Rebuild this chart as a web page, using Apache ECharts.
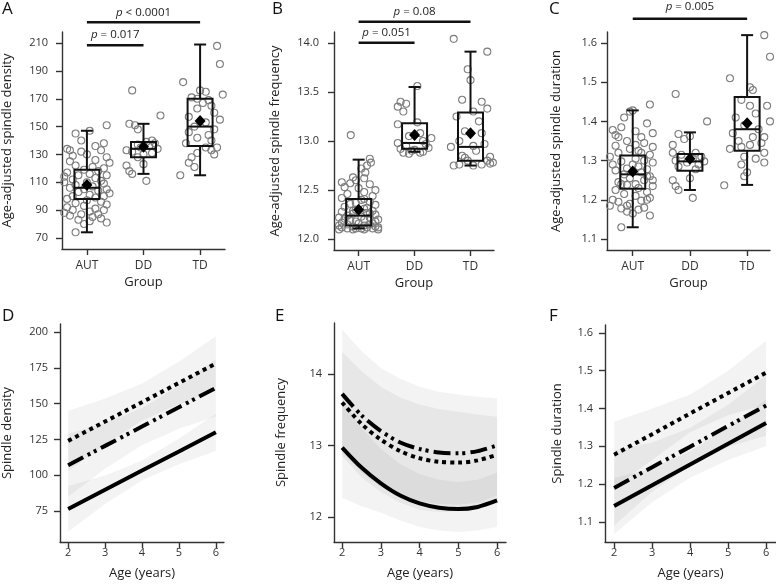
<!DOCTYPE html>
<html><head><meta charset="utf-8">
<script src="https://cdn.jsdelivr.net/npm/echarts@6/dist/echarts.min.js"></script>
<style>html,body{margin:0;padding:0;background:#fff}#c{width:776px;height:586px}</style>
</head><body><div id="c"></div>
<script>
// ---------- categories ----------
const groups = ['AUT', 'DD', 'TD'];
const groupPos = [1, 2, 3];

// ---------- Panel A: age-adjusted spindle density, points as [jitter, value] ----------
const densAUT = [[0.35,151],[0.05,147],[-0.2,145],[-0.1,140],[0.3,138],[0.15,136],[-0.35,134],[-0.3,133],[0.25,133],[-0.1,132],[0,130],[-0.25,129],[0.35,128],[0.15,126],[-0.3,125],[0.4,124],[-0.2,122],[0.1,121],[0.3,120],[-0.05,119],[0.2,118],[-0.35,117],[0.05,116],[-0.15,115],[0.35,115],[-0.4,114],[0.15,113],[-0.25,112],[0.25,111],[-0.4,110],[0,110],[0.3,109],[-0.2,108],[0.1,107],[-0.3,106],[0.35,105],[-0.05,105],[0.2,104],[-0.15,103],[0.4,102],[0.05,101],[-0.25,100],[0.3,100],[0.15,99],[-0.35,98],[0,97],[0.25,96],[-0.2,95],[0.35,94],[-0.05,93],[-0.35,92],[0.15,91],[-0.25,90],[0.3,90],[0.05,89],[-0.4,88],[-0.1,87],[0.2,87],[-0.3,86],[0.1,85],[0.25,84],[-0.15,83],[0.05,82],[0.35,81],[-0.05,80],[-0.2,74]];
const densDD = [[-0.2,176],[0.3,158],[-0.25,152],[-0.15,151],[-0.1,148],[0.15,140],[0.05,139],[0.2,138],[-0.1,137],[0.1,136],[-0.05,135],[0.25,134],[-0.3,133],[-0.2,132],[0.15,131],[0,130],[-0.1,128],[0,123],[-0.3,122],[-0.25,118],[-0.2,116],[0.05,111]];
const densTD = [[0.3,208],[0.35,195],[-0.3,182],[0,176],[0.1,175],[0.4,173],[-0.15,171],[-0.05,170],[0.15,169],[0.05,167],[0.2,165],[-0.05,163],[0.25,160],[-0.2,157],[0.35,155],[0.1,153],[-0.1,150],[0.25,148],[-0.2,146],[0.15,144],[-0.05,142],[0.2,140],[-0.25,138],[0.1,135],[0.3,135],[0.2,133],[-0.05,131],[0.25,130],[-0.15,128],[-0.2,124],[-0.1,121],[-0.35,115]];
const densBox = [[74,98,106,119,147],[116,128,134,139,152],[115,136,150,170,209]];
const densMean = [108, 135.5, 154];
const densTicks = [70,90,110,130,150,170,190,210];
const densSig = [[1,3,225],[1,2,208.5]];
const densSigText = ['< 0.0001','= 0.017'];

// ---------- Panel B: age-adjusted spindle frequency ----------
const freqAUT = [[-0.14,13.06],[0.2,12.82],[0.22,12.78],[0.15,12.75],[0.05,12.72],[0.12,12.68],[-0.1,12.63],[-0.05,12.6],[-0.3,12.58],[0.2,12.56],[-0.25,12.53],[0.3,12.5],[0.1,12.48],[-0.2,12.46],[0.25,12.44],[-0.3,12.42],[0.05,12.4],[0.2,12.38],[-0.15,12.36],[0.3,12.35],[-0.25,12.33],[0.1,12.31],[-0.05,12.3],[0.25,12.29],[-0.3,12.28],[0.15,12.27],[-0.1,12.26],[0.3,12.25],[-0.2,12.24],[0.05,12.23],[0.2,12.22],[-0.25,12.21],[0.1,12.2],[-0.15,12.19],[0.3,12.18],[-0.3,12.17],[0,12.16],[0.2,12.15],[-0.2,12.15],[0.1,12.14],[-0.1,12.13],[0.3,12.13],[-0.3,12.12],[0.15,12.12],[-0.2,12.11],[0.05,12.11],[0.25,12.11],[-0.35,12.1],[-0.1,12.1],[0.1,12.1],[0.35,12.1],[-0.05,12.11],[0.35,12.12],[-0.35,12.14],[0.25,12.16],[-0.05,12.18],[0.35,12.2],[-0.35,12.22],[0.2,12.26],[-0.1,12.29],[0.15,12.32],[-0.05,12.37],[0.1,12.41],[0,12.52],[-0.15,12.57],[0.1,12.62]];
const freqDD = [[0.05,13.56],[-0.25,13.4],[-0.15,13.38],[-0.3,13.35],[-0.2,13.3],[0.05,13.19],[-0.3,13.17],[0.1,13.08],[-0.1,13.05],[0.3,13.03],[0.15,13.0],[-0.3,12.98],[0.2,12.97],[-0.15,12.95],[0.25,12.93],[-0.25,12.92],[0,12.91],[-0.05,12.9],[0.15,12.89],[-0.2,12.88],[0.1,12.88],[-0.1,12.87]];
const freqTD = [[-0.3,14.04],[0.3,13.91],[-0.05,13.73],[0,13.62],[-0.15,13.42],[0.2,13.4],[0.3,13.33],[0.05,13.3],[-0.25,13.25],[0.15,13.2],[-0.1,13.1],[0.2,13.08],[-0.2,13.0],[0.25,12.97],[0.05,12.95],[-0.35,12.94],[0.1,12.9],[-0.15,12.85],[0.35,12.84],[-0.1,12.83],[0.3,12.8],[-0.05,12.8],[0.4,12.78],[0.35,12.77],[-0.2,12.76],[0.2,12.76],[0.05,12.75],[-0.3,12.75]];
const freqBox = [[12.11,12.14,12.24,12.41,12.81],[12.89,12.92,12.98,13.18,13.55],[12.75,12.8,12.94,13.29,13.91]];
const freqMean = [12.3, 13.06, 13.08];
const freqTicks = [12.0,12.5,13.0,13.5,14.0];
const freqSig = [[1,3,14.215],[1,2,14.0]];
const freqSigText = ['= 0.08','= 0.051'];

// ---------- Panel C: age-adjusted spindle duration ----------
const durAUT = [[0.3,1.443],[0,1.428],[-0.05,1.425],[-0.15,1.41],[0.25,1.395],[-0.2,1.385],[-0.35,1.378],[0.05,1.375],[0.35,1.37],[-0.3,1.365],[0.15,1.36],[-0.25,1.36],[-0.1,1.35],[0.2,1.345],[0.05,1.34],[-0.3,1.338],[0.35,1.335],[-0.05,1.33],[0.1,1.325],[-0.25,1.32],[0.15,1.32],[0.3,1.315],[-0.4,1.31],[0.05,1.305],[0.2,1.3],[-0.2,1.298],[0.35,1.295],[-0.35,1.29],[0,1.29],[0.1,1.285],[-0.1,1.28],[0.25,1.278],[-0.3,1.275],[0.15,1.27],[-0.15,1.265],[0.3,1.26],[0.25,1.26],[-0.05,1.255],[0.2,1.25],[0.35,1.25],[-0.25,1.245],[0.05,1.24],[-0.2,1.24],[-0.1,1.238],[0.35,1.235],[0.1,1.23],[-0.3,1.225],[0.25,1.22],[-0.15,1.215],[0.05,1.21],[0.3,1.205],[-0.35,1.2],[0.25,1.2],[0.15,1.198],[-0.25,1.195],[-0.05,1.19],[-0.4,1.185],[-0.1,1.185],[0.2,1.18],[-0.2,1.178],[0.1,1.175],[-0.1,1.17],[0,1.165],[0.3,1.16],[-0.2,1.13]];
const durDD = [[-0.25,1.47],[0.3,1.4],[-0.2,1.368],[0,1.362],[-0.1,1.355],[-0.3,1.34],[0.1,1.32],[-0.3,1.32],[-0.15,1.315],[0.2,1.31],[0.05,1.305],[-0.25,1.3],[0.25,1.298],[-0.05,1.295],[0.15,1.29],[-0.2,1.285],[0.1,1.278],[0,1.255],[-0.3,1.25],[-0.25,1.235],[-0.2,1.225],[0.05,1.205]];
const durTD = [[0.3,1.62],[0.4,1.565],[-0.3,1.51],[0.05,1.487],[0.1,1.48],[0.45,1.47],[-0.1,1.455],[0.05,1.44],[0.35,1.44],[0.15,1.42],[-0.2,1.41],[0.4,1.4],[-0.05,1.39],[0.2,1.38],[-0.25,1.37],[0.1,1.36],[0.3,1.36],[-0.15,1.35],[0.25,1.345],[0.05,1.34],[-0.1,1.335],[-0.3,1.33],[0.3,1.32],[-0.05,1.31],[0.15,1.305],[0.3,1.295],[-0.1,1.29],[0,1.27],[-0.05,1.26],[-0.4,1.237]];
const durBox = [[1.13,1.228,1.265,1.313,1.428],[1.225,1.274,1.298,1.317,1.372],[1.238,1.325,1.38,1.462,1.62]];
const durMean = [1.272, 1.305, 1.395];
const durTicks = [1.1,1.2,1.3,1.4,1.5,1.6];
const durSig = [[1,3,1.662]];
const durSigText = ['= 0.005'];

// ---------- Panels D-F: fitted trajectories by age ----------
const ageTicks = [2,3,4,5,6];
const ageX = [2,3,4,5,6];
const ageXE = [2,2.5,3,3.5,4,4.5,5,5.5,6];

// D: spindle density
const sdTicks = [75,100,125,150,175,200];
const sdAUT = [76.5,89.9,103.3,116.6,130];
const sdDD = [107,120.5,134,147.5,161];
const sdTD = [124,137.5,151,164.5,178];
const sdAUTlo = [60.5,79.9,96.3,107.6,117], sdAUThi = [92.5,99.9,110.3,125.6,143];
const sdDDlo = [85,104.5,121,132.5,141], sdDDhi = [129,136.5,147,162.5,181];
const sdTDlo = [103,121.5,138,149.5,159], sdTDhi = [145,153.5,164,179.5,197];

// E: spindle frequency
const sfTicks = [12,13,14];
const sfAUT = [12.97,12.69,12.47,12.30,12.19,12.13,12.11,12.14,12.23];
const sfDD = [13.72,13.42,13.20,13.04,12.95,12.90,12.89,12.92,13.00];
const sfTD = [13.60,13.30,13.08,12.92,12.82,12.77,12.76,12.79,12.87];
const sfAUTlo = [12.27,12.15,12.06,11.95,11.86,11.81,11.79,11.81,11.86], sfAUThi = [13.65,13.25,12.95,12.74,12.60,12.52,12.49,12.52,12.62];
const sfDDlo = [12.85,12.55,12.35,12.20,12.10,12.07,12.08,12.14,12.22], sfDDhi = [14.62,14.32,14.08,13.93,13.82,13.75,13.71,13.68,13.66];
const sfTDlo = [12.90,12.62,12.42,12.30,12.22,12.18,12.17,12.20,12.30], sfTDhi = [14.31,14.04,13.82,13.67,13.57,13.51,13.47,13.43,13.40];

// F: spindle duration
const sduTicks = [1.1,1.2,1.3,1.4,1.5,1.6];
const sduAUT = [1.142,1.197,1.252,1.307,1.362];
const sduDD = [1.19,1.245,1.299,1.354,1.408];
const sduTD = [1.278,1.332,1.387,1.441,1.495];
const sduAUTlo = [1.068,1.152,1.217,1.264,1.30], sduAUThi = [1.216,1.242,1.287,1.35,1.424];
const sduDDlo = [1.09,1.18,1.249,1.298,1.328], sduDDhi = [1.29,1.31,1.349,1.41,1.488];
const sduTDlo = [1.191,1.264,1.337,1.382,1.41], sduTDhi = [1.365,1.40,1.437,1.50,1.58];

// ---------- build ----------
const FONT = 'Open Sans';
const AX = '#333';
const grids = [
  {left:62, top:32, width:163, height:217},
  {left:334, top:32, width:160, height:218},
  {left:607, top:32, width:163, height:218},
  {left:60, top:324, width:164, height:218},
  {left:334, top:323, width:172, height:219},
  {left:605, top:325, width:171, height:217}
];
function xCatAxis(gi, min, max){
  return {gridIndex:gi, type:'value', min, max, name:'Group', nameLocation:'middle', nameGap:27,
    nameTextStyle:{fontSize:13, color:'#222', fontFamily:FONT},
    axisLine:{show:true, onZero:false, lineStyle:{color:AX, width:1.4}},
    axisTick:{show:true, length:6, customValues:groupPos, lineStyle:{color:AX, width:1.4}},
    axisLabel:{customValues:groupPos, formatter:v=>groups[Math.round(v)-1], margin:11, fontSize:12, color:'#333', fontFamily:FONT},
    splitLine:{show:false}};
}
function xAgeAxis(gi, min, max){
  return {gridIndex:gi, type:'value', min, max, name:'Age (years)', nameLocation:'middle', nameGap:25,
    nameTextStyle:{fontSize:13, color:'#222', fontFamily:FONT},
    axisLine:{show:true, onZero:false, lineStyle:{color:AX, width:1.4}},
    axisTick:{show:true, length:6, customValues:ageTicks, lineStyle:{color:AX, width:1.4}},
    axisLabel:{customValues:ageTicks, margin:5, fontSize:11, color:'#333', fontFamily:FONT},
    splitLine:{show:false}};
}
function yAx(gi, min, max, ticks, dec, name, gap, margin){
  return {gridIndex:gi, type:'value', min, max, name, nameLocation:'middle', nameGap:gap,
    nameTextStyle:{fontSize:13, color:'#222', fontFamily:FONT},
    axisLine:{show:true, onZero:false, lineStyle:{color:AX, width:1.4}},
    axisTick:{show:true, length:6, customValues:ticks, lineStyle:{color:AX, width:1.4}},
    axisLabel:{customValues:ticks, formatter:v=>Number(v).toFixed(dec), margin, fontSize:11, color:'#333', fontFamily:FONT},
    splitLine:{show:false}};
}
const xAxis = [xCatAxis(0,0.56,3.44), xCatAxis(1,0.56,3.42), xCatAxis(2,0.55,3.4),
  xAgeAxis(3,1.78,6.22), xAgeAxis(4,1.79,6.23), xAgeAxis(5,1.76,6.26)];
const yAxis = [
  yAx(0,62,218,densTicks,0,'Age-adjusted spindle density',48,14),
  yAx(1,11.89,14.11,freqTicks,1,'Age-adjusted spindle frequency',52,15),
  yAx(2,1.072,1.628,durTicks,1,'Age-adjusted spindle duration',44,10),
  yAx(3,53.4,205.6,sdTicks,0,'Spindle density',46,12),
  yAx(4,11.65,14.71,sfTicks,0,'Spindle frequency',46,12),
  yAx(5,1.047,1.621,sduTicks,1,'Spindle duration',41,12)
];

const series = [];
function addTopPanel(gi, ptsList, box, mean, sig, sigText, textOff){
  ptsList.forEach((pts, k) => {
    series.push({type:'scatter', xAxisIndex:gi, yAxisIndex:gi, silent:true, z:2,
      data: pts.map(p => [groupPos[k] + p[0], p[1]]),
      symbol:'circle', symbolSize:7,
      itemStyle:{color:'rgba(255,255,255,0)', borderColor:'#7d7d7d', borderWidth:1.1, opacity:1}});
  });
  series.push({type:'custom', xAxisIndex:gi, yAxisIndex:gi, silent:true, z:3, clip:false,
    data: box.map((b,i) => [groupPos[i]].concat(b)),
    encode:{x:0, y:[1,2,3,4,5]},
    renderItem:(params, api) => {
      const x = api.value(0);
      const lo = api.coord([x, api.value(1)]), q1 = api.coord([x, api.value(2)]),
            md = api.coord([x, api.value(3)]), q3 = api.coord([x, api.value(4)]),
            hi = api.coord([x, api.value(5)]);
      const hw = 12.5, cw = 6, cx = lo[0];
      const st = {stroke:'#111', lineWidth:2, fill:null};
      return {type:'group', children:[
        {type:'line', shape:{x1:cx, y1:lo[1], x2:cx, y2:q1[1]}, style:st},
        {type:'line', shape:{x1:cx, y1:q3[1], x2:cx, y2:hi[1]}, style:st},
        {type:'line', shape:{x1:cx-cw, y1:lo[1], x2:cx+cw, y2:lo[1]}, style:st},
        {type:'line', shape:{x1:cx-cw, y1:hi[1], x2:cx+cw, y2:hi[1]}, style:st},
        {type:'rect', shape:{x:cx-hw, y:q3[1], width:2*hw, height:q1[1]-q3[1]}, style:{stroke:'#111', lineWidth:2, fill:'rgba(0,0,0,0)'}},
        {type:'line', shape:{x1:cx-hw, y1:md[1], x2:cx+hw, y2:md[1]}, style:st}
      ]};
    }});
  series.push({type:'scatter', xAxisIndex:gi, yAxisIndex:gi, silent:true, z:4,
    data: mean.map((m,i) => [groupPos[i], m]), symbol:'diamond', symbolSize:[11,12],
    itemStyle:{color:'#000', opacity:1}});
  series.push({type:'custom', xAxisIndex:gi, yAxisIndex:gi, silent:true, z:5, clip:false,
    data: sig, encode:{x:[0,1], y:2},
    renderItem:(params, api) => {
      const a = api.coord([api.value(0), api.value(2)]);
      const b = api.coord([api.value(1), api.value(2)]);
      return {type:'group', children:[
        {type:'line', shape:{x1:a[0], y1:a[1], x2:b[0], y2:b[1]}, style:{stroke:'#111', lineWidth:2.5}},
        {type:'text', x:(a[0]+b[0])/2, y:a[1]-textOff,
          style:{text:'{i|p} ' + sigText[params.dataIndex], fill:'#222',
            fontFamily:FONT, fontSize:11.5, align:'center', verticalAlign:'middle',
            rich:{i:{fontStyle:'italic', fontFamily:FONT, fontSize:11.5, fill:'#222'}}}}
      ]};
    }});
}
addTopPanel(0, [densAUT, densDD, densTD], densBox, densMean, densSig, densSigText, 10);
addTopPanel(1, [freqAUT, freqDD, freqTD], freqBox, freqMean, freqSig, freqSigText, 10);
addTopPanel(2, [durAUT, durDD, durTD], durBox, durMean, durSig, durSigText, 12);

const DOT = [4,4];
const DASHDOT = [17,5,3,4,3,5];
function addBottomPanel(gi, xs, lines, bands, smooth){
  series.push({type:'custom', xAxisIndex:gi, yAxisIndex:gi, silent:true, z:1, clip:true,
    data: bands.map((b,i) => [xs[0], b[0][0]]),
    encode:{x:0, y:1},
    renderItem:(params, api) => {
      const b = bands[params.dataIndex];
      const pts = [];
      xs.forEach((x,i) => pts.push(api.coord([x, b[1][i]])));
      for (let i = xs.length-1; i >= 0; i--) pts.push(api.coord([xs[i], b[0][i]]));
      return {type:'polygon', shape:{points:pts}, style:{fill:'rgba(0,0,0,0.048)', stroke:null}};
    }});
  lines.forEach(l => {
    series.push({type:'line', xAxisIndex:gi, yAxisIndex:gi, silent:true, z:3,
      data: xs.map((x,i) => [x, l[0][i]]), showSymbol:false, smooth: smooth,
      lineStyle:{color:'#000', width:4, type:l[1], cap:'butt', opacity:1}});
  });
}
addBottomPanel(3, ageX, [[sdAUT,'solid'],[sdDD,DASHDOT],[sdTD,DOT]],
  [[sdAUTlo,sdAUThi],[sdDDlo,sdDDhi],[sdTDlo,sdTDhi]], false);
addBottomPanel(4, ageXE, [[sfAUT,'solid'],[sfDD,DASHDOT],[sfTD,DOT]],
  [[sfAUTlo,sfAUThi],[sfDDlo,sfDDhi],[sfTDlo,sfTDhi]], 0.3);
addBottomPanel(5, ageX, [[sduAUT,'solid'],[sduDD,DASHDOT],[sduTD,DOT]],
  [[sduAUTlo,sduAUThi],[sduDDlo,sduDDhi],[sduTDlo,sduTDhi]], false);

const letters = [['A',2,1],['B',272,1],['C',549,1],['D',2,308],['E',275,308],['F',549,308]];
const title = letters.map(l => ({text:l[0], left:l[1], top:l[2], padding:0,
  textStyle:{fontSize:17, fontWeight:'normal', color:'#111', fontFamily:FONT}}));

const chart = echarts.init(document.getElementById('c'), null, {renderer:'canvas'});
chart.setOption({animation:false, backgroundColor:'#fff', title, grid:grids, xAxis, yAxis, series, tooltip:{show:false}});
</script></body></html>
